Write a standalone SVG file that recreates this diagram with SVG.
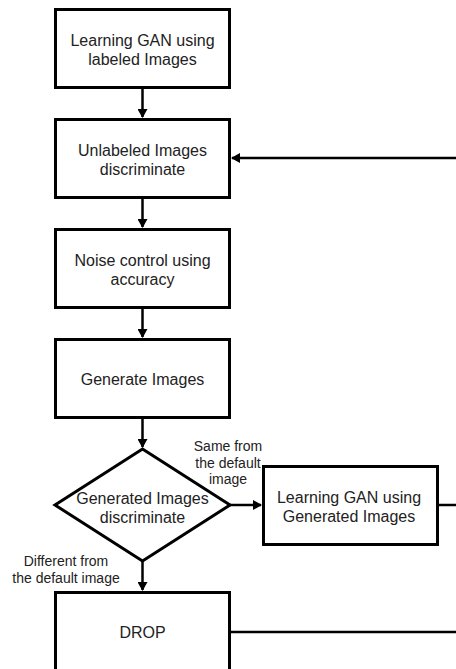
<svg xmlns="http://www.w3.org/2000/svg" width="456" height="669" viewBox="0 0 456 669">
<style>
.box{fill:#fff;stroke:#000;stroke-width:3}
.t{font-family:"Liberation Sans",Arial,sans-serif;font-size:16px;fill:#222;text-anchor:middle;dominant-baseline:central}
.s{font-family:"Liberation Sans",Arial,sans-serif;font-size:14px;fill:#222;text-anchor:middle;dominant-baseline:central}
.c{fill:none;stroke:#000;stroke-width:2.5}
</style>
<defs>
<marker id="ah" markerWidth="10" markerHeight="10" refX="8" refY="5" orient="auto" markerUnits="userSpaceOnUse">
<path d="M0,0 L9,5 L0,10 Z" fill="#000"/>
</marker>
</defs>
<rect width="456" height="669" fill="#fff"/>
<g id="connectors">
<line class="c" x1="142.5" y1="88" x2="142.5" y2="117" marker-end="url(#ah)"/>
<line class="c" x1="142.5" y1="198" x2="142.5" y2="227" marker-end="url(#ah)"/>
<line class="c" x1="142.5" y1="308" x2="142.5" y2="337" marker-end="url(#ah)"/>
<line class="c" x1="142.5" y1="418" x2="142.5" y2="447" marker-end="url(#ah)"/>
<line class="c" x1="142.5" y1="561" x2="142.5" y2="590" marker-end="url(#ah)"/>
<line class="c" x1="230" y1="505" x2="261" y2="505" marker-end="url(#ah)"/>
<line class="c" x1="438" y1="505" x2="456" y2="505"/>
<line class="c" x1="231" y1="632" x2="456" y2="632"/>
<line class="c" x1="456" y1="158" x2="232" y2="158" marker-end="url(#ah)"/>
<text class="s" x="228" y="446">Same from</text>
<text class="s" x="228" y="462.5">the default</text>
<text class="s" x="228" y="479">image</text>
<text class="s" x="66" y="561">Different from</text>
<text class="s" x="66" y="577.5">the default image</text>
</g>
<g id="n1">
<rect class="box" x="55.5" y="9.5" width="174" height="78"/>
<text class="t" x="142.5" y="40">Learning GAN using</text>
<text class="t" x="142.5" y="59">labeled Images</text>
</g>
<g id="n2">
<rect class="box" x="55.5" y="119.5" width="174" height="78"/>
<text class="t" x="142.5" y="150">Unlabeled Images</text>
<text class="t" x="142.5" y="169">discriminate</text>
</g>
<g id="n3">
<rect class="box" x="55.5" y="229.5" width="174" height="78"/>
<text class="t" x="142.5" y="260">Noise control using</text>
<text class="t" x="142.5" y="279">accuracy</text>
</g>
<g id="n4">
<rect class="box" x="55.5" y="339.5" width="174" height="78"/>
<text class="t" x="142.5" y="379">Generate Images</text>
</g>
<g id="n5">
<polygon class="box" points="142.5,449 230,505 142.5,561 55,505"/>
<text class="t" x="142.5" y="498">Generated Images</text>
<text class="t" x="142.5" y="517">discriminate</text>
</g>
<g id="n6">
<rect class="box" x="263.5" y="466.5" width="174" height="78"/>
<text class="t" x="349" y="497">Learning GAN using</text>
<text class="t" x="349" y="516">Generated Images</text>
</g>
<g id="n7">
<rect class="box" x="55.5" y="592.5" width="174" height="90"/>
<text class="t" x="142.5" y="632">DROP</text>
</g>
</svg>
